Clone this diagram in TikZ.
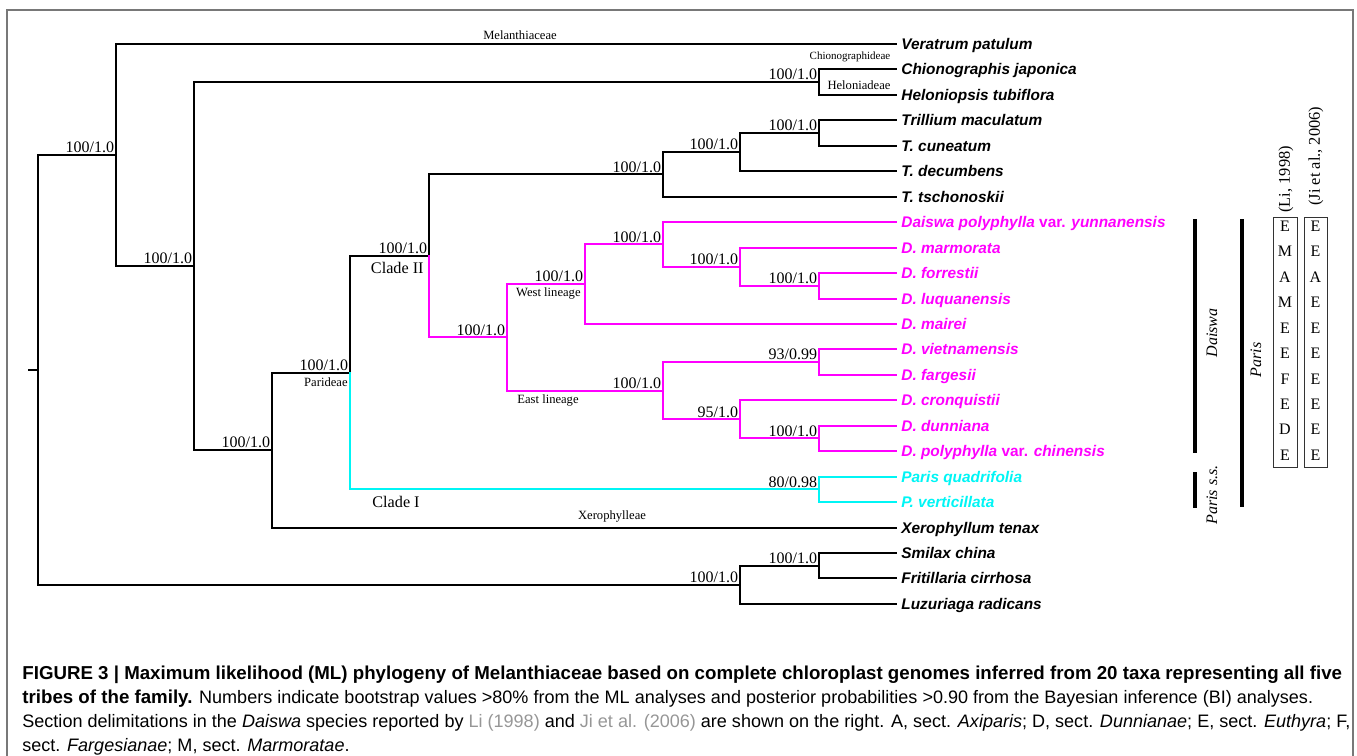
\documentclass[tikz,border=0pt]{standalone}
\usepackage{fontspec}
\setmainfont{Liberation Serif}
\setsansfont{Liberation Sans}
\usetikzlibrary{positioning}
\definecolor{dmag}{RGB}{255,0,255}
\definecolor{pcyan}{RGB}{0,245,245}
\definecolor{frame}{RGB}{120,120,120}
\definecolor{linkgray}{RGB}{150,150,150}
% y position of taxon row #1 (in px of the figure)
\newcommand{\ly}[1]{44+25.45*(#1)}
\newcommand{\capbf}[1]{{\fontsize{9.35}{12}\selectfont\bfseries #1}}

\begin{document}
\begin{tikzpicture}[x=0.5pt, y=-0.5pt,
      br/.style={line width=1pt, line cap=rect},
      mg/.style={br, draw=dmag},
      cy/.style={br, draw=pcyan},
      taxon/.style={anchor=west, inner xsep=2.5pt, inner ysep=0pt, text height=5.5pt,
                    text depth=0pt, font=\sffamily\fontsize{7.7}{9}\selectfont\bfseries\itshape},
      bs/.style={anchor=south east, inner sep=0.8pt, font=\fontsize{8}{9}\selectfont},
      grp/.style={inner sep=0pt, font=\fontsize{6.3}{7}\selectfont},
      clade/.style={inner sep=0pt, font=\fontsize{8.1}{9}\selectfont},
      sect/.style={rotate=90, inner sep=0pt, font=\fontsize{8}{9}\selectfont\itshape},
      bar/.style={line width=2pt},
      letter/.style={inner sep=0pt, font=\fontsize{8}{9}\selectfont},
      caption/.style={anchor=north west, align=left, inner sep=0pt,
                      font=\sffamily\fontsize{9.02}{12}\selectfont}]

    \useasboundingbox (0,0) rectangle (1357,756);
    \draw[frame, line width=0.75pt] (7,760) -- (7,10) -- (1353,10) -- (1353,760);

    % taxa
    \node[taxon] (vp)  at (896,{\ly{0}})  {Veratrum patulum};
    \node[taxon] (cj)  at (896,{\ly{1}})  {Chionographis japonica};
    \node[taxon] (ht)  at (896,{\ly{2}})  {Heloniopsis tubiflora};
    \node[taxon] (tm)  at (896,{\ly{3}})  {Trillium maculatum};
    \node[taxon] (tc)  at (896,{\ly{4}})  {T. cuneatum};
    \node[taxon] (td)  at (896,{\ly{5}})  {T. decumbens};
    \node[taxon] (tt)  at (896,{\ly{6}})  {T. tschonoskii};
    \node[taxon, text=dmag] (dy)  at (896,{\ly{7}})  {Daiswa polyphylla \textup{var.} yunnanensis};
    \node[taxon, text=dmag] (dm)  at (896,{\ly{8}})  {D. marmorata};
    \node[taxon, text=dmag] (df)  at (896,{\ly{9}})  {D. forrestii};
    \node[taxon, text=dmag] (dl)  at (896,{\ly{10}}) {D. luquanensis};
    \node[taxon, text=dmag] (dmi) at (896,{\ly{11}}) {D. mairei};
    \node[taxon, text=dmag] (dv)  at (896,{\ly{12}}) {D. vietnamensis};
    \node[taxon, text=dmag] (dfa) at (896,{\ly{13}}) {D. fargesii};
    \node[taxon, text=dmag] (dc)  at (896,{\ly{14}}) {D. cronquistii};
    \node[taxon, text=dmag] (dd)  at (896,{\ly{15}}) {D. dunniana};
    \node[taxon, text=dmag] (dp)  at (896,{\ly{16}}) {D. polyphylla \textup{var.} chinensis};
    \node[taxon, text=pcyan] (pq) at (896,{\ly{17}}) {Paris quadrifolia};
    \node[taxon, text=pcyan] (pv) at (896,{\ly{18}}) {P. verticillata};
    \node[taxon] (xt)  at (896,{\ly{19}}) {Xerophyllum tenax};
    \node[taxon] (sc)  at (896,{\ly{20}}) {Smilax china};
    \node[taxon] (fc)  at (896,{\ly{21}}) {Fritillaria cirrhosa};
    \node[taxon] (lr)  at (896,{\ly{22}}) {Luzuriaga radicans};

    % internal nodes
    \coordinate (root) at (38,{\ly{12.807}});
    \coordinate (stub) at (29,{\ly{12.807}});
    \coordinate (mel)  at (116,{\ly{4.364}});
    \coordinate (core) at (194,{\ly{8.7285}});
    \coordinate (xp)   at (272,{\ly{15.957}});
    \coordinate (pari) at (350,{\ly{12.914}});
    \coordinate (cl2)  at (429,{\ly{8.328}});
    \coordinate (tri)  at (663,{\ly{5.125}});
    \coordinate (tr1)  at (740,{\ly{4.25}});
    \coordinate (tr2)  at (819,{\ly{3.5}});
    \coordinate (chi)  at (819,{\ly{1.5}});
    \coordinate (dai)  at (507,{\ly{11.531}});
    \coordinate (west) at (585,{\ly{9.4375}});
    \coordinate (w1)   at (663,{\ly{7.875}});
    \coordinate (w2)   at (740,{\ly{8.75}});
    \coordinate (w3)   at (819,{\ly{9.5}});
    \coordinate (east) at (663,{\ly{13.625}});
    \coordinate (e1)   at (819,{\ly{12.5}});
    \coordinate (e2)   at (740,{\ly{14.75}});
    \coordinate (e3)   at (819,{\ly{15.5}});
    \coordinate (par)  at (819,{\ly{17.5}});
    \coordinate (og)   at (740,{\ly{21.25}});
    \coordinate (og2)  at (819,{\ly{20.5}});

    % black branches
    \draw[br] (stub) -- (root);
    \draw[br] (root) |- (mel);  \draw[br] (root) |- (og);
    \draw[br] (mel) |- (vp.west); \draw[br] (mel) |- (core);
    \draw[br] (core) |- (chi);  \draw[br] (core) |- (xp);
    \draw[br] (chi) |- (cj.west); \draw[br] (chi) |- (ht.west);
    \draw[br] (xp) |- (pari);   \draw[br] (xp) |- (xt.west);
    \draw[br] (pari) |- (cl2);  \draw[br] (cl2) |- (tri);
    \draw[br] (tri) |- (tr1);   \draw[br] (tri) |- (tt.west);
    \draw[br] (tr1) |- (tr2);   \draw[br] (tr1) |- (td.west);
    \draw[br] (tr2) |- (tm.west); \draw[br] (tr2) |- (tc.west);
    \draw[br] (og) |- (og2);    \draw[br] (og) |- (lr.west);
    \draw[br] (og2) |- (sc.west); \draw[br] (og2) |- (fc.west);

    % Daiswa
    \draw[mg] (cl2) |- (dai);
    \draw[mg] (dai) |- (west);  \draw[mg] (dai) |- (east);
    \draw[mg] (west) |- (w1);   \draw[mg] (west) |- (dmi.west);
    \draw[mg] (w1) |- (dy.west); \draw[mg] (w1) |- (w2);
    \draw[mg] (w2) |- (dm.west); \draw[mg] (w2) |- (w3);
    \draw[mg] (w3) |- (df.west); \draw[mg] (w3) |- (dl.west);
    \draw[mg] (east) |- (e1);   \draw[mg] (east) |- (e2);
    \draw[mg] (e1) |- (dv.west); \draw[mg] (e1) |- (dfa.west);
    \draw[mg] (e2) |- (dc.west); \draw[mg] (e2) |- (e3);
    \draw[mg] (e3) |- (dd.west); \draw[mg] (e3) |- (dp.west);

    % Paris s.s.
    \draw[cy] (pari) |- (par);
    \draw[cy] (par) |- (pq.west); \draw[cy] (par) |- (pv.west);

    % support values
    \node[bs] (bmel)  at (mel)  {100/1.0};
    \node[bs] (bcore) at (core) {100/1.0};
    \node[bs] (bxp)   at (xp)   {100/1.0};
    \node[bs] (bpari) at (pari) {100/1.0};
    \node[bs] (bcl2)  at (cl2)  {100/1.0};
    \node[bs] (btri)  at (tri)  {100/1.0};
    \node[bs] (btr1)  at (tr1)  {100/1.0};
    \node[bs] (btr2)  at (tr2)  {100/1.0};
    \node[bs] (bchi)  at (chi)  {100/1.0};
    \node[bs] (bdai)  at (dai)  {100/1.0};
    \node[bs] (bwest) at (west) {100/1.0};
    \node[bs] (bw1)   at (w1)   {100/1.0};
    \node[bs] (bw2)   at (w2)   {100/1.0};
    \node[bs] (bw3)   at (w3)   {100/1.0};
    \node[bs] (beast) at (east) {100/1.0};
    \node[bs] (be1)   at (e1)   {93/0.99};
    \node[bs] (be2)   at (e2)   {95/1.0};
    \node[bs] (be3)   at (e3)   {100/1.0};
    \node[bs] (bpar)  at (par)  {80/0.98};
    \node[bs] (bog)   at (og)   {100/1.0};
    \node[bs] (bog2)  at (og2)  {100/1.0};

    % group names
    \node[grp, anchor=south] (lmel) at (520,40) {Melanthiaceae};
    \node[grp, font=\fontsize{5.5}{6}\selectfont] (lchi) at (850,57) {Chionographideae};
    \node[grp] (lhel) at (859,85) {Heloniadeae};
    \node[grp, anchor=south] (lxer) at (612,523) {Xerophylleae};
    \node[grp, below left=1.5pt and 2pt of west] (lwest) {West lineage};
    \node[grp, anchor=north west] (least) at (517,394) {East lineage};
    \node[grp, below left=2.5pt and 1pt of pari] (lpari) {Parideae};
    \node[clade, below left=3pt and 2.5pt of cl2] (lcl2) {Clade II};
    \node[clade, anchor=north west] (lcl1) at (372,496) {Clade I};

    % sections
    \draw[bar] (1195,219) -- (1195,453);
    \draw[bar] (1195,472) -- (1195,508);
    \draw[bar] (1242,219) -- (1242,507);
    \node[sect] (sdai) at (1212,333) {Daiswa};
    \node[sect] (spss) at (1212,495) {Paris s.s.};
    \node[sect] (spar) at (1256,360) {Paris};

    \draw[black!80, line width=0.4pt] (1273,217) rectangle (1297,467);
    \draw[black!80, line width=0.4pt] (1304,217) rectangle (1327,467);
    \node[sect, font=\fontsize{8.2}{9}\selectfont, anchor=west] (li)  at (1286,213) {(Li, 1998)};
    \node[sect, font=\fontsize{8.2}{9}\selectfont, anchor=west] (ji)  at (1316,206) {(Ji et al., 2006)};
    \foreach \l [count=\i from 7] in {E,M,A,M,E,E,F,E,D,E}
      \node[letter] at (1285,{\ly{\i}+4}) {\l};
    \foreach \l [count=\i from 7] in {E,E,A,E,E,E,E,E,E,E}
      \node[letter] at (1315.5,{\ly{\i}+4}) {\l};

    \node[caption] (cap) at (22,666)
      {\capbf{FIGURE 3 | Maximum likelihood (ML) phylogeny of Melanthiaceae based on complete chloroplast genomes inferred from 20 taxa representing all five}\\
       \capbf{tribes of the family.} Numbers indicate bootstrap values >80\% from the ML analyses and posterior probabilities >0.90 from the Bayesian inference (BI) analyses.\\
       Section delimitations in the \textit{Daiswa} species reported by \textcolor{linkgray}{Li (1998)} and \textcolor{linkgray}{Ji et al. (2006)} are shown on the right. A, sect. \textit{Axiparis}; D, sect. \textit{Dunnianae}; E, sect. \textit{Euthyra}; F,\\
       sect. \textit{Fargesianae}; M, sect. \textit{Marmoratae}.};
  \end{tikzpicture}
\end{document}
